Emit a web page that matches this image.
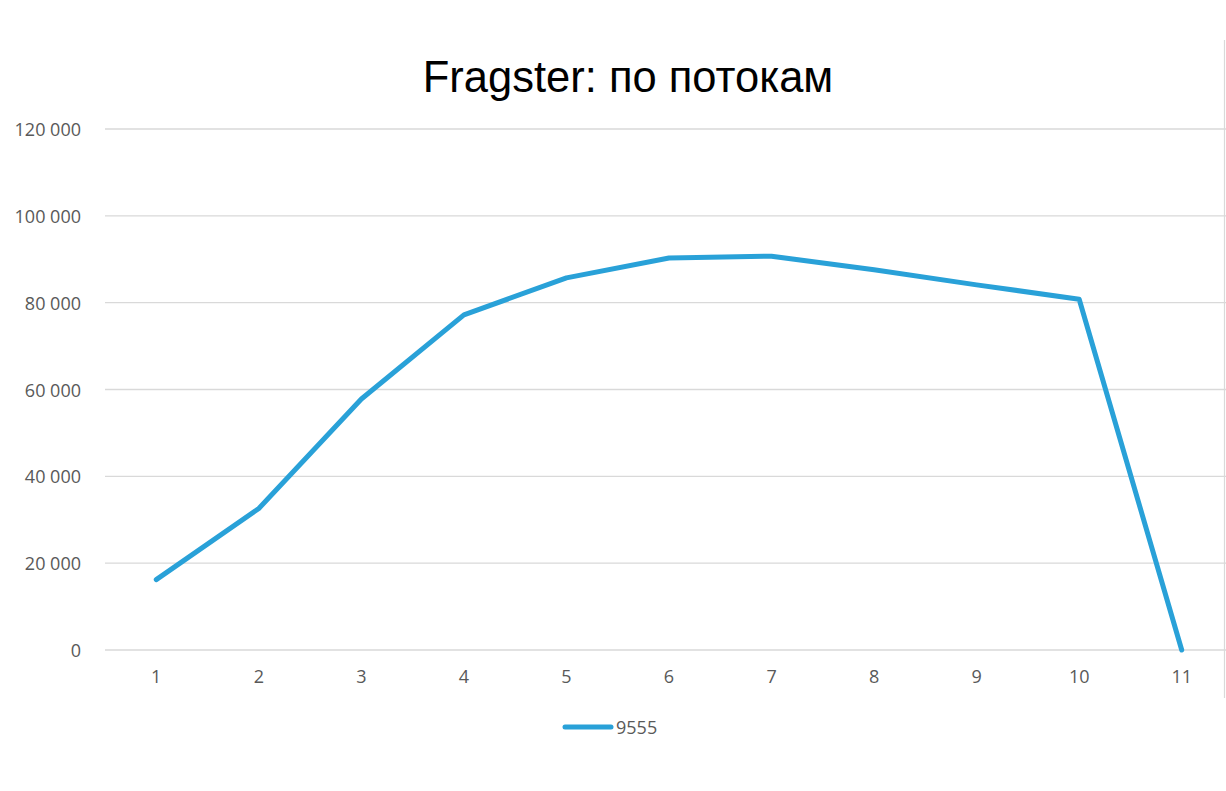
<!DOCTYPE html>
<html>
<head>
<meta charset="utf-8">
<script src="https://cdn.jsdelivr.net/npm/d3@7"></script>
<style>
  body { margin: 0; background: #fff; }
  svg { display: block; }
</style>
</head>
<body>
<div id="chart"></div>
<script>
const title = "Fragster: по потокам";
const seriesName = "9555";
const threads = ["1", "2", "3", "4", "5", "6", "7", "8", "9", "10", "11"];
const values = [16200, 32600, 57800, 77200, 85700, 90300, 90700, 87600, 84100, 80800, 0];
const yTicks = [0, 20000, 40000, 60000, 80000, 100000, 120000];

const width = 1226;
const height = 791;
const margin = { top: 129, right: -7, bottom: 141, left: 105 };

const svg = d3
  .select("#chart")
  .append("svg")
  .attr("width", width)
  .attr("height", height);

const x = d3
  .scaleBand()
  .domain(threads)
  .range([margin.left, width - margin.right]);

const y = d3
  .scaleLinear()
  .domain([0, 120000])
  .range([height - margin.bottom, margin.top]);

const fmt = (v) => d3.format(",")(v).replace(/,/g, " ");

// gridlines
svg
  .append("g")
  .selectAll("line")
  .data(yTicks)
  .join("line")
  .attr("x1", margin.left)
  .attr("x2", width - margin.right)
  .attr("y1", (d) => y(d))
  .attr("y2", (d) => y(d))
  .attr("stroke", "#d9d9d9")
  .attr("stroke-width", 1.3);

// y labels
svg
  .append("g")
  .selectAll("text")
  .data(yTicks)
  .join("text")
  .attr("x", 81)
  .attr("y", (d) => y(d))
  .attr("text-anchor", "end")
  .attr("dominant-baseline", "central")
  .attr("font-family", "'Open Sans', sans-serif")
  .attr("font-size", 18)
  .attr("fill", "#595959")
  .text(fmt);

// x labels
svg
  .append("g")
  .selectAll("text")
  .data(threads)
  .join("text")
  .attr("x", (d) => x(d) + x.bandwidth() / 2)
  .attr("y", y(0) + 33)
  .attr("text-anchor", "middle")
  .attr("font-family", "'Open Sans', sans-serif")
  .attr("font-size", 18)
  .attr("fill", "#595959")
  .text((d) => d);

// right border of the chart frame
svg
  .append("line")
  .attr("x1", 1224.5)
  .attr("x2", 1224.5)
  .attr("y1", 40)
  .attr("y2", 698)
  .attr("stroke", "#d9d9d9")
  .attr("stroke-width", 1.2);

const line = d3
  .line()
  .x((d, i) => x(threads[i]) + x.bandwidth() / 2)
  .y((d) => y(d));

svg
  .append("path")
  .datum(values)
  .attr("fill", "none")
  .attr("stroke", "#29a1d8")
  .attr("stroke-width", 5)
  .attr("stroke-linejoin", "round")
  .attr("stroke-linecap", "round")
  .attr("d", line);

// title
svg
  .append("text")
  .attr("x", 628)
  .attr("y", 92)
  .attr("text-anchor", "middle")
  .attr("font-family", "'Liberation Sans', Arial, sans-serif")
  .attr("font-size", 43.5)
  .attr("fill", "#000")
  .text(title);

// legend
const legend = svg.append("g").attr("transform", "translate(565,727)");
legend
  .append("line")
  .attr("x1", 0)
  .attr("x2", 46)
  .attr("stroke", "#29a1d8")
  .attr("stroke-width", 5)
  .attr("stroke-linecap", "round");
legend
  .append("text")
  .attr("x", 51)
  .attr("y", 0)
  .attr("dominant-baseline", "central")
  .attr("font-family", "'Open Sans', sans-serif")
  .attr("font-size", 18)
  .attr("fill", "#595959")
  .text(seriesName);
</script>
</body>
</html>
